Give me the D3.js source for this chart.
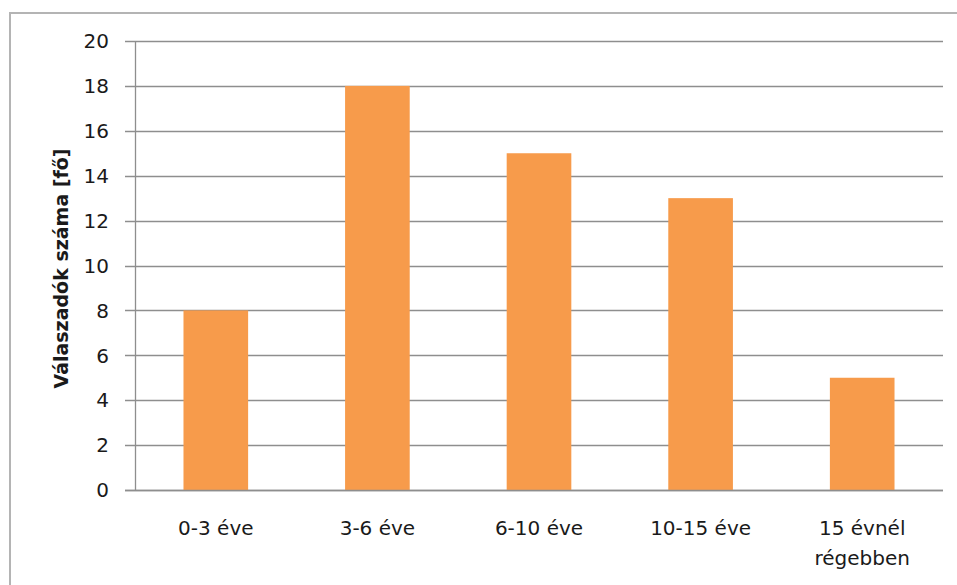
<!DOCTYPE html>
<html>
<head>
<meta charset="utf-8">
<script src="https://cdn.jsdelivr.net/npm/d3@7"></script>
<style>
  body { margin: 0; background: #fff; }
  svg { display: block; font-family: "DejaVu Sans", sans-serif; }
</style>
</head>
<body>
<svg id="chart" width="957" height="585"></svg>
<script>
// Data
const categories = ['0-3 éve', '3-6 éve', '6-10 éve', '10-15 éve', '15 évnél\nrégebben'];
const values = [8, 18, 15, 13, 5];
const yTicks = [0, 2, 4, 6, 8, 10, 12, 14, 16, 18, 20];
const yTitle = 'Válaszadók száma [fő]';

const svg = d3.select('#chart');

// outer chart border (runs off the right and bottom of the picture)
svg.append('rect')
  .attr('x', 10).attr('y', 13)
  .attr('width', 960).attr('height', 590)
  .attr('fill', 'none')
  .attr('stroke', '#b4b4b4')
  .attr('stroke-width', 2);

const plotLeft = 135, plotRight = 943, plotTop = 41, plotBottom = 490;

const x = d3.scaleBand()
  .domain(categories)
  .range([plotLeft, plotRight])
  .paddingInner(0.6)
  .paddingOuter(0.3);

const y = d3.scaleLinear()
  .domain([0, 20])
  .range([plotBottom, plotTop]);

// gridlines
svg.append('g')
  .selectAll('line')
  .data(yTicks)
  .enter()
  .append('line')
  .attr('x1', plotLeft - 10)
  .attr('x2', plotRight)
  .attr('y1', d => Math.round(y(d)) + 0.5)
  .attr('y2', d => Math.round(y(d)) + 0.5)
  .attr('stroke', '#8e8e8e')
  .attr('stroke-width', 1.3);

// y axis line
svg.append('line')
  .attr('x1', plotLeft + 0.5).attr('x2', plotLeft + 0.5)
  .attr('y1', plotTop).attr('y2', plotBottom)
  .attr('stroke', '#8e8e8e')
  .attr('stroke-width', 1.3);

// y tick labels
svg.append('g')
  .selectAll('text')
  .data(yTicks)
  .enter()
  .append('text')
  .attr('x', 109)
  .attr('y', d => y(d))
  .attr('dy', '0.36em')
  .attr('text-anchor', 'end')
  .attr('font-size', 20)
  .attr('fill', '#1a1a1a')
  .text(d => d);

// bars
svg.append('g')
  .selectAll('rect')
  .data(values)
  .enter()
  .append('rect')
  .attr('x', (d, i) => x(categories[i]))
  .attr('y', d => y(d))
  .attr('width', x.bandwidth())
  .attr('height', d => y(0) - y(d))
  .attr('fill', '#f79b4b');

// redraw bottom axis over the bars
svg.append('line')
  .attr('x1', plotLeft - 10).attr('x2', plotRight)
  .attr('y1', Math.round(y(0)) + 0.5).attr('y2', Math.round(y(0)) + 0.5)
  .attr('stroke', '#8e8e8e')
  .attr('stroke-width', 1.3);

// x labels (may be two lines)
const xl = svg.append('g')
  .selectAll('text')
  .data(categories)
  .enter()
  .append('text')
  .attr('x', d => x(d) + x.bandwidth() / 2)
  .attr('y', 535)
  .attr('text-anchor', 'middle')
  .attr('font-size', 20)
  .attr('fill', '#1a1a1a');

xl.selectAll('tspan')
  .data(d => d.split('\n'))
  .enter()
  .append('tspan')
  .attr('x', function() { return this.parentNode.getAttribute('x'); })
  .attr('dy', (d, i) => i === 0 ? 0 : 30)
  .text(d => d);

// y axis title
svg.append('text')
  .attr('transform', 'translate(68,' + ((plotTop + plotBottom) / 2 + 3) + ') rotate(-90)')
  .attr('text-anchor', 'middle')
  .attr('font-size', 19)
  .attr('font-weight', 'bold')
  .attr('fill', '#1a1a1a')
  .text(yTitle);
</script>
</body>
</html>
